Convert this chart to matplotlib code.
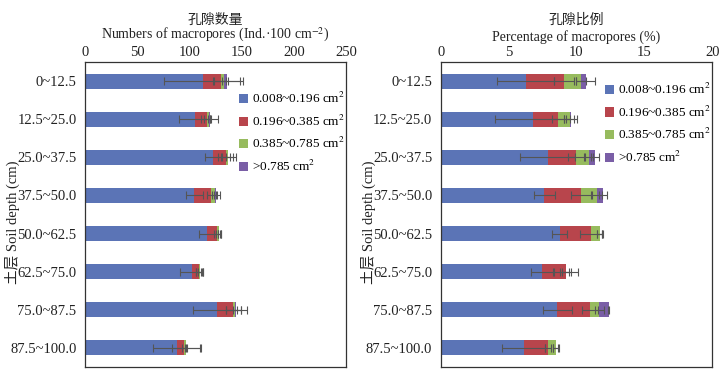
import numpy as np
import matplotlib
matplotlib.use('Agg')
import matplotlib.pyplot as plt

plt.rcParams['font.family'] = ['Liberation Serif', 'Noto Sans CJK SC']
plt.rcParams['mathtext.fontset'] = 'stix'

depths = ['0~12.5', '12.5~25.0', '25.0~37.5', '37.5~50.0',
          '50.0~62.5', '62.5~75.0', '75.0~87.5', '87.5~100.0']
classes = ['0.008~0.196 cm$^2$', '0.196~0.385 cm$^2$',
           '0.385~0.785 cm$^2$', '>0.785 cm$^2$']
colors = ['#5b74b6', '#b8454c', '#97bb5e', '#7a5ea6']

# numbers of macropores (Ind./100 cm2), one list per size class
num_c1 = [113.3, 105.4, 122.9, 104.7, 117.1, 102.2, 126.1, 88.4]
num_c2 = [17.0, 11.7, 11.8, 16.3, 9.6, 7.0, 15.9, 6.4]
num_c3 = [3.1, 1.7, 2.0, 3.5, 1.3, 0.4, 1.9, 1.6]
num_c4 = [2.3, 0.5, 0.6, 1.0, 0.3, 0.1, 0.7, 0.3]
num_e1 = [38.0, 15.0, 8.5, 8.0, 8.0, 11.0, 23.0, 23.0]
num_e2 = [7.0, 3.0, 7.0, 4.0, 3.0, 3.0, 7.0, 2.0]
num_e3 = [2.0, 1.0, 2.0, 1.5, 1.0, 1.0, 2.0, 1.0]
num_e4 = [13.0, 8.0, 7.0, 4.0, 1.5, 3.5, 10.0, 13.0]

# percentage of macropores (%)
pct_c1 = [6.26, 6.77, 7.90, 7.63, 8.76, 7.44, 8.59, 6.13]
pct_c2 = [2.82, 1.89, 2.09, 2.70, 2.31, 1.76, 2.43, 1.77]
pct_c3 = [1.25, 0.89, 0.93, 1.18, 0.64, 0.02, 0.66, 0.57]
pct_c4 = [0.37, 0.02, 0.44, 0.47, 0.02, 0.01, 0.69, 0.02]
pct_e1 = [2.10, 2.75, 2.03, 0.78, 0.54, 0.81, 1.08, 1.59]
pct_e2 = [0.75, 0.45, 0.60, 0.75, 0.80, 0.40, 0.60, 0.20]
pct_e3 = [0.35, 0.30, 0.30, 0.40, 0.20, 0.25, 0.35, 0.20]
pct_e4 = [0.70, 0.45, 0.30, 0.30, 0.25, 0.90, 0.05, 0.22]


def draw(ax, segs, errs, xmax, step, title_cn, title_en, legend_anchor):
    y = np.arange(len(depths))
    left = np.zeros(len(depths))
    for i, (vals, err) in enumerate(zip(segs, errs)):
        vals = np.array(vals)
        ax.barh(y, vals, left=left, height=0.4, color=colors[i],
                label=classes[i], edgecolor='none')
        left = left + vals
        ax.errorbar(left, y, xerr=err, fmt='none', ecolor='#555555',
                    elinewidth=0.8, capsize=3, capthick=0.8)
    ax.set_xlim(0, xmax)
    ax.set_ylim(len(depths) - 0.5, -0.5)
    ax.set_yticks(y)
    ax.set_yticklabels(depths)
    ax.set_xticks(np.arange(0, xmax + step / 2, step))
    ax.xaxis.tick_top()
    ax.tick_params(axis='both', length=0, labelsize=10.5, colors='#222222')
    ax.tick_params(axis='x', pad=2.5)
    ax.tick_params(axis='y', pad=6)
    for s in ax.spines.values():
        s.set_color('#333333')
        s.set_linewidth(0.9)
    ax.text(0.5, 1.115, title_cn, transform=ax.transAxes, ha='center',
            va='bottom', fontsize=10, color='#222222')
    ax.text(0.5, 1.06, title_en, transform=ax.transAxes, ha='center',
            va='bottom', fontsize=10, color='#222222')
    ax.legend(loc='upper left', bbox_to_anchor=legend_anchor, frameon=False,
              fontsize=9.5, handlelength=0.7, handleheight=0.7,
              handletextpad=0.3, labelspacing=0.57, borderpad=0,
              borderaxespad=0)


fig = plt.figure(figsize=(7.26, 3.77), dpi=100)
ax1 = fig.add_axes([0.117, 0.027, 0.36, 0.808])
ax2 = fig.add_axes([0.607, 0.027, 0.374, 0.808])

draw(ax1, [num_c1, num_c2, num_c3, num_c4], [num_e1, num_e2, num_e3, num_e4],
     250, 50, '孔隙数量', 'Numbers of macropores (Ind.·100 cm$^{-2}$)',
     (0.59, 0.905))
draw(ax2, [pct_c1, pct_c2, pct_c3, pct_c4], [pct_e1, pct_e2, pct_e3, pct_e4],
     20, 5, '孔隙比例', 'Percentage of macropores (%)', (0.605, 0.935))

fig.text(0.017, 0.41, '土层 Soil depth (cm)', rotation=90, ha='center',
         va='center', fontsize=10.5, color='#222222')
fig.text(0.507, 0.41, '土层 Soil depth (cm)', rotation=90, ha='center',
         va='center', fontsize=10.5, color='#222222')

fig.savefig('out.png', dpi=100, facecolor='white')
